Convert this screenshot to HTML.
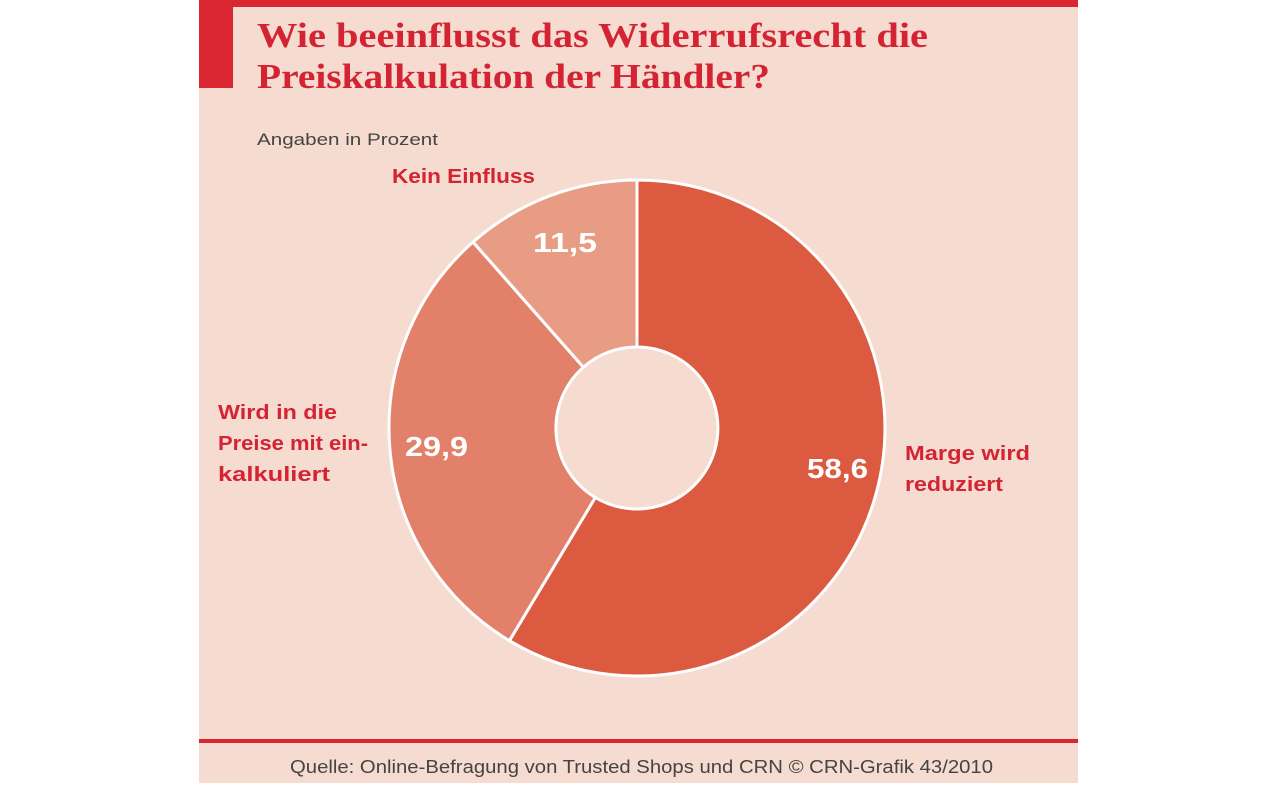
<!DOCTYPE html>
<html><head><meta charset="utf-8"><style>
html,body{margin:0;padding:0;background:#fff;}
body{width:1280px;height:783px;position:relative;overflow:hidden;font-family:"Liberation Sans",sans-serif;}
</style></head><body>
<svg width="1280" height="783" viewBox="0 0 1280 783" xmlns="http://www.w3.org/2000/svg">
<rect x="199" y="0" width="879" height="783" fill="#f6dbd0"/>
<rect x="199" y="0" width="879" height="7" fill="#d92630"/>
<rect x="199" y="0" width="34" height="88" fill="#d92630"/>
<text x="257" y="47" font-family="Liberation Serif, serif" font-weight="bold" font-size="35" fill="#d42433" textLength="671" lengthAdjust="spacingAndGlyphs">Wie beeinflusst das Widerrufsrecht die</text>
<text x="257" y="88" font-family="Liberation Serif, serif" font-weight="bold" font-size="35" fill="#d42433" textLength="513" lengthAdjust="spacingAndGlyphs">Preiskalkulation der Händler?</text>
<text x="257" y="145" font-size="17" fill="#444" textLength="181" lengthAdjust="spacingAndGlyphs">Angaben in Prozent</text>
<g stroke="#fff" stroke-width="3" stroke-linejoin="round">
<path d="M637,180 A248,248 0 1 1 509.4,640.7 L595.3,497.5 A81,81 0 1 0 637,347 Z" fill="#dc5a40"/>
<path d="M509.4,640.7 A248,248 0 0 1 473.0,242.0 L583.4,367.2 A81,81 0 0 0 595.3,497.5 Z" fill="#e3806a"/>
<path d="M473.0,242.0 A248,248 0 0 1 637,180 L637,347 A81,81 0 0 0 583.4,367.2 Z" fill="#e89c84"/>
</g>
<g font-weight="bold" fill="#fff" font-size="28">
<text x="533" y="252" textLength="64" lengthAdjust="spacingAndGlyphs">11,5</text>
<text x="405" y="456" textLength="63" lengthAdjust="spacingAndGlyphs">29,9</text>
<text x="807" y="478" textLength="61" lengthAdjust="spacingAndGlyphs">58,6</text>
</g>
<g font-weight="bold" fill="#d42433" font-size="20">
<text x="392" y="183" textLength="143" lengthAdjust="spacingAndGlyphs">Kein Einfluss</text>
<text x="218" y="419" textLength="119" lengthAdjust="spacingAndGlyphs">Wird in die</text>
<text x="218" y="450" textLength="150" lengthAdjust="spacingAndGlyphs">Preise mit ein-</text>
<text x="218" y="481" textLength="112" lengthAdjust="spacingAndGlyphs">kalkuliert</text>
<text x="905" y="460" textLength="125" lengthAdjust="spacingAndGlyphs">Marge wird</text>
<text x="905" y="491" textLength="98" lengthAdjust="spacingAndGlyphs">reduziert</text>
</g>
<rect x="199" y="739" width="879" height="4" fill="#d92630"/>
<text x="290" y="773" font-size="18" fill="#444" textLength="703" lengthAdjust="spacingAndGlyphs">Quelle: Online-Befragung von Trusted Shops und CRN © CRN-Grafik 43/2010</text>
</svg>
</body></html>
